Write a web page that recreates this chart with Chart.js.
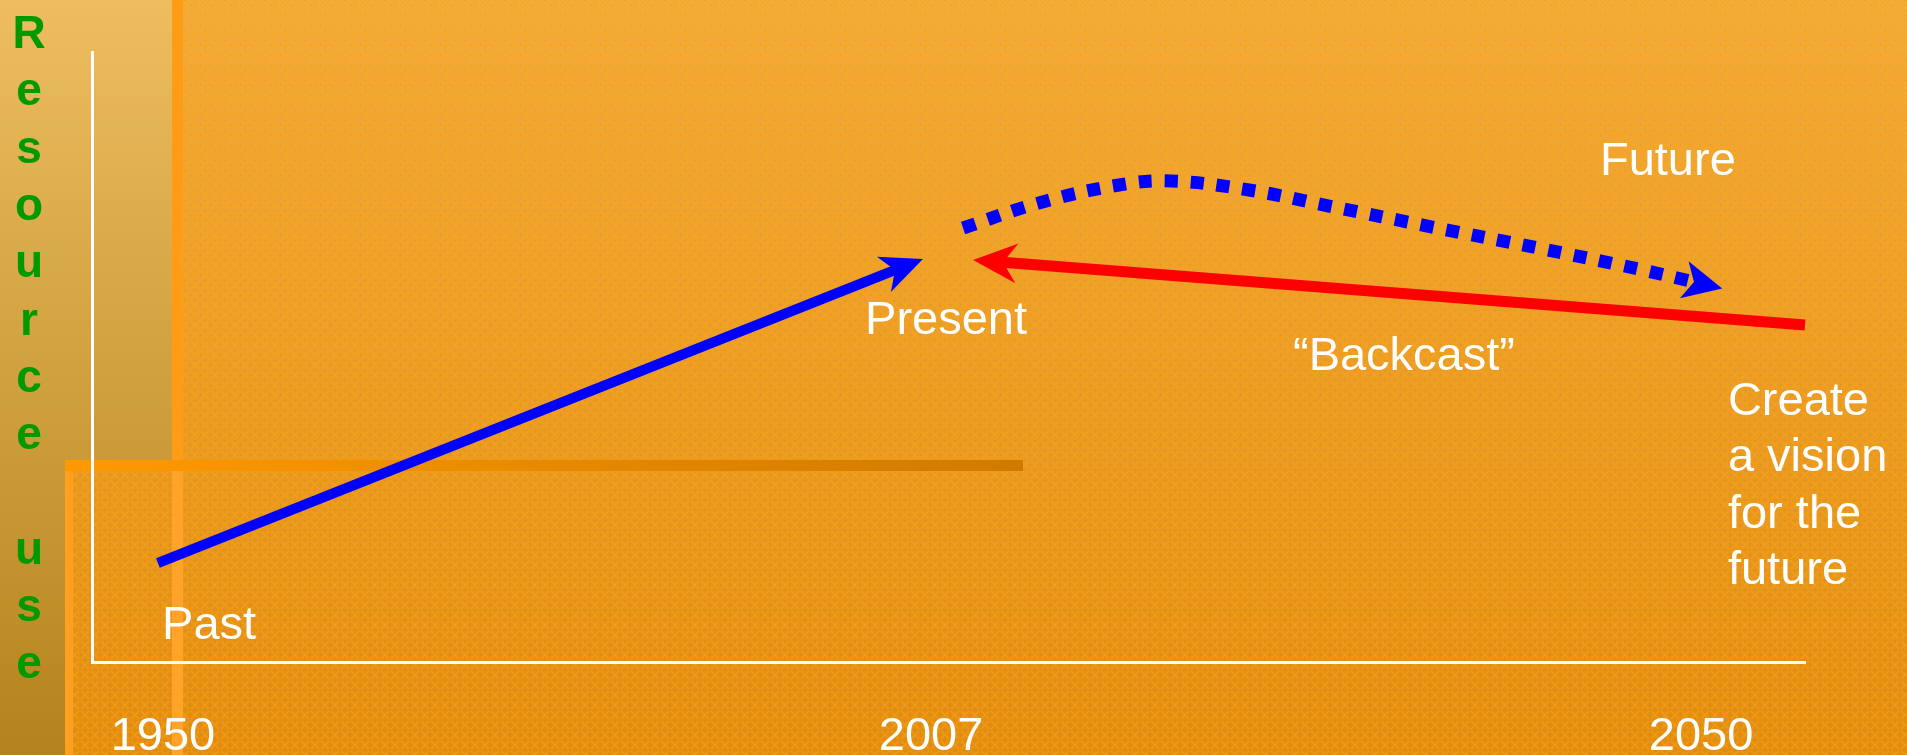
<!DOCTYPE html>
<html>
<head>
<meta charset="utf-8">
<script src="https://cdn.jsdelivr.net/npm/chart.js@4.4.1/dist/chart.umd.min.js"></script>
<style>
  html, body { margin: 0; padding: 0; background: #e8960f; }
  #wrap { width: 1907px; height: 755px; position: relative; }
</style>
</head>
<body>
<div id="wrap"><canvas id="backcastChart"></canvas></div>
<script>
// x runs 0..100 across the plot (years are only tick labels), y is relative resource use
const xTickPos = [4.14, 48.98, 93.93];
const xTickLabels = ["1950", "2007", "2050"];

const pastX = [3.85, 46.88];
const pastY = [16.23, 64.26];

const backcastX = [100, 53.18];
const backcastY = [55.25, 65.52];

const futureX = [50.85, 55.28, 59.95, 62.99, 67.54, 72.21, 78.23, 84.41, 90.54, 93.52];
const futureY = [71.15, 75.25, 78.20, 78.85, 77.38, 74.75, 71.31, 67.87, 64.26, 62.30];

const noteText = ["Past", "Present", "\u201CBackcast\u201D", "Future", "Create", "a vision", "for the", "future"];
const noteX = [4.09, 45.13, 70.11, 88.03, 95.5, 95.5, 95.5, 95.5];
const noteY = [3.77, 53.77, 47.87, 79.84, 40.49, 31.31, 21.97, 12.79];

const yTitle = "Resource use";

const FONT = '"Liberation Sans", Arial, sans-serif';

function toPoints(xs, ys) {
  return xs.map((x, i) => ({ x: x, y: ys[i] }));
}

// small cross-hatch tile for the slide texture
function makePattern(ctx) {
  const tile = document.createElement("canvas");
  tile.width = 10;
  tile.height = 10;
  const t = tile.getContext("2d");
  t.strokeStyle = "rgba(255,165,20,0.5)";
  t.lineWidth = 1.6;
  t.beginPath();
  t.moveTo(1, 1); t.lineTo(9, 9);
  t.moveTo(9, 1); t.lineTo(1, 9);
  t.stroke();
  t.fillStyle = "rgba(190,120,30,0.2)";
  t.fillRect(4, 0, 2, 1);
  t.fillRect(0, 4, 1, 2);
  return ctx.createPattern(tile, "repeat");
}

const slideBackground = {
  id: "slideBackground",
  beforeDraw(chart) {
    const ctx = chart.ctx;
    const W = chart.width, H = chart.height;
    ctx.save();
    let g = ctx.createLinearGradient(0, 0, 0, H);
    g.addColorStop(0, "#F2AC3C");
    g.addColorStop(1, "#E28D10");
    ctx.fillStyle = g;
    ctx.fillRect(0, 0, W, H);

    ctx.fillStyle = makePattern(ctx);
    ctx.fillRect(172, 0, W - 172, H);
    ctx.fillRect(65, 460, 110, H - 460);

    // tan side panel
    g = ctx.createLinearGradient(0, 0, 0, H);
    g.addColorStop(0, "#EDBD60");
    g.addColorStop(1, "#B3841D");
    ctx.fillStyle = g;
    ctx.fillRect(0, 0, 172, 460);
    ctx.fillRect(0, 460, 65, H - 460);

    // vertical stripe
    ctx.fillStyle = "#FF9B14";
    ctx.fillRect(172, 0, 11, 460);
    ctx.fillStyle = "#FFA428";
    ctx.fillRect(172, 471, 11, H - 471);

    // bevel edge of lower box
    ctx.fillStyle = "#FFA020";
    ctx.fillRect(65, 460, 8, H - 460);

    // horizontal bar
    g = ctx.createLinearGradient(65, 0, 1023, 0);
    g.addColorStop(0, "#FF9900");
    g.addColorStop(1, "#D07A00");
    ctx.fillStyle = g;
    ctx.fillRect(65, 460, 958, 11);
    ctx.restore();
  }
};

const arrowHeads = {
  id: "arrowHeads",
  afterDatasetsDraw(chart) {
    const ctx = chart.ctx;
    chart.data.datasets.forEach((ds, i) => {
      if (!ds.arrow) return;
      const pts = chart.getDatasetMeta(i).data;
      const end = pts[pts.length - 1];
      const prev = pts[pts.length - 2];
      let fx = prev.x, fy = prev.y;
      if (end.cp1x !== undefined && (end.cp1x !== end.x || end.cp1y !== end.y)) {
        fx = end.cp1x; fy = end.cp1y;
      }
      let dx = end.x - fx, dy = end.y - fy;
      const len = Math.hypot(dx, dy);
      dx /= len; dy /= len;
      const nx = -dy, ny = dx;
      const a = ds.arrow.ahead, b = ds.arrow.behind, w = ds.arrow.half;
      ctx.save();
      ctx.fillStyle = ds.borderColor;
      ctx.beginPath();
      ctx.moveTo(end.x + a * dx, end.y + a * dy);
      ctx.lineTo(end.x - b * dx + w * nx, end.y - b * dy + w * ny);
      ctx.lineTo(end.x, end.y);
      ctx.lineTo(end.x - b * dx - w * nx, end.y - b * dy - w * ny);
      ctx.closePath();
      ctx.fill();
      ctx.restore();
    });
  }
};

const slideText = {
  id: "slideText",
  afterDraw(chart) {
    const ctx = chart.ctx;
    const xs = chart.scales.x, ys = chart.scales.y;
    ctx.save();
    ctx.fillStyle = "#FFFFFF";
    ctx.font = "47px " + FONT;
    ctx.textAlign = "left";
    ctx.textBaseline = "alphabetic";
    noteText.forEach((t, i) => {
      ctx.fillText(t, xs.getPixelForValue(noteX[i]), ys.getPixelForValue(noteY[i]));
    });

    // stacked axis title
    ctx.fillStyle = "#009A00";
    ctx.font = "bold 46px " + FONT;
    ctx.textAlign = "center";
    const top = chart.chartArea.top - 4;
    const step = 57.3;
    yTitle.split("").forEach((ch, i) => {
      ctx.fillText(ch, 29, top + i * step);
    });
    ctx.restore();
  }
};

new Chart(document.getElementById("backcastChart"), {
  type: "scatter",
  data: {
    datasets: [
      {
        label: "Past",
        data: toPoints(pastX, pastY),
        showLine: true,
        borderColor: "#0000FF",
        borderWidth: 10,
        borderCapStyle: "butt",
        pointRadius: 0,
        clip: false,
        arrow: { ahead: 30, behind: 12, half: 19 }
      },
      {
        label: "Backcast",
        data: toPoints(backcastX, backcastY),
        showLine: true,
        borderColor: "#FF0000",
        borderWidth: 11,
        borderCapStyle: "butt",
        pointRadius: 0,
        clip: false,
        arrow: { ahead: 30, behind: 14, half: 20 }
      },
      {
        label: "Future",
        data: toPoints(futureX, futureY),
        showLine: true,
        tension: 0.4,
        borderColor: "#0000FF",
        borderWidth: 13,
        borderDash: [13, 13],
        borderCapStyle: "butt",
        pointRadius: 0,
        clip: false,
        arrow: { ahead: 29, behind: 10, half: 19 }
      }
    ]
  },
  options: {
    responsive: true,
    maintainAspectRatio: false,
    animation: false,
    layout: { padding: { left: 92, top: 52, right: 102, bottom: 0 } },
    plugins: {
      legend: { display: false },
      tooltip: { enabled: false }
    },
    scales: {
      x: {
        type: "linear",
        min: 0,
        max: 100,
        afterBuildTicks(scale) {
          scale.ticks = xTickPos.map(v => ({ value: v }));
        },
        afterFit(scale) {
          scale.height = 93;
        },
        ticks: {
          callback: (value, index) => xTickLabels[index],
          color: "#FFFFFF",
          font: { family: FONT, size: 47, lineHeight: 0.8 },
          padding: 56,
          maxRotation: 0,
          autoSkip: false
        },
        grid: { display: false, drawTicks: false, tickLength: 0 },
        border: { display: true, color: "#FFFFFF", width: 3 }
      },
      y: {
        type: "linear",
        min: 0,
        max: 100,
        ticks: { display: false },
        grid: { display: false, drawTicks: false, tickLength: 0 },
        border: { display: true, color: "#FFFFFF", width: 3 }
      }
    }
  },
  plugins: [slideBackground, arrowHeads, slideText]
});
</script>
</body>
</html>
